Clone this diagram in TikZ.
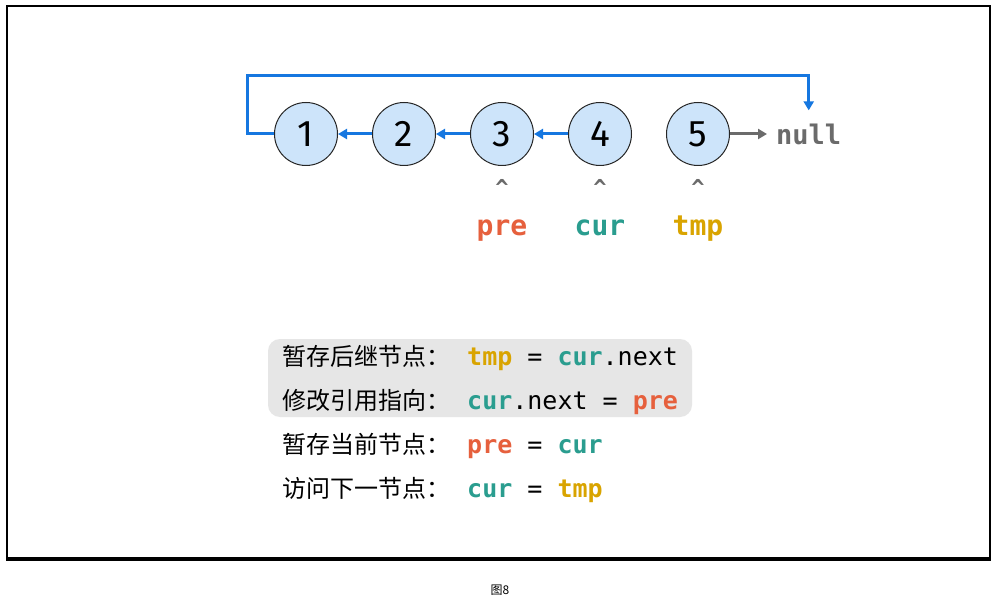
\documentclass[tikz,border=0pt]{standalone}
\usepackage{fontspec}
\setmainfont{DejaVu Sans}
\setmonofont{DejaVu Sans Mono}
\newfontfamily\cjkfont{Noto Sans CJK SC}
\newfontfamily\numfont{Fira Sans}
\usetikzlibrary{arrows.meta,positioning}
\definecolor{linkblue}{HTML}{1677E0}
\definecolor{nodefill}{HTML}{CDE4FA}
\definecolor{prered}{HTML}{E6603D}
\definecolor{curteal}{HTML}{2A9D8F}
\definecolor{tmpgold}{HTML}{D9A400}
\definecolor{nullgray}{HTML}{6B6B6B}
\definecolor{boxgray}{HTML}{E6E6E6}
\newcommand{\kw}[2]{\textcolor{#1}{\bfseries #2}}

\begin{document}
\begin{tikzpicture}[
  x=1pt,y=-1pt,
  node distance=34pt,
  listnode/.style={circle,draw=black!85,line width=1pt,fill=nodefill,
                   minimum size=63pt,inner sep=0pt,
                   font=\numfont\fontsize{37}{37}\selectfont},
  link/.style={-{Triangle[length=9pt,width=10pt]},line width=3pt,linkblue},
  nullarr/.style={-{Triangle[length=9pt,width=10pt]},line width=3pt,nullgray},
  caret/.style={text=nullgray,font=\ttfamily\bfseries\fontsize{22}{22}\selectfont},
  ptr/.style={anchor=base,font=\ttfamily\bfseries\fontsize{28}{28}\selectfont},
  steplabel/.style={anchor=base west,inner sep=0pt,
                    font=\cjkfont\fontsize{24}{24}\selectfont},
  stepcode/.style={anchor=base west,inner sep=0pt,
                   font=\ttfamily\fontsize{25}{25}\selectfont}
]
  \useasboundingbox (0,0) rectangle (995,601);
  \fill[white] (0,0) rectangle (995,601);
  % frame
  \draw[line width=2pt] (7,6) rectangle (990,558);
  \draw[line width=4pt] (6,559) -- (991,559);

  % list
  \node[listnode] (n1) at (306,134) {1};
  \node[listnode,right=of n1] (n2) {2};
  \node[listnode,right=of n2] (n3) {3};
  \node[listnode,right=of n3] (n4) {4};
  \node[listnode,right=of n4] (n5) {5};
  \node[right=46pt of n5,inner sep=0pt,text=nullgray,
        font=\ttfamily\bfseries\fontsize{27}{27}\selectfont] (null) {null};
  \draw[link] (n2) -- (n1);
  \draw[link] (n3) -- (n2);
  \draw[link] (n4) -- (n3);
  \draw[nullarr,shorten >=9pt] (n5) -- (null);
  \coordinate (loopcorner) at (247,76);
  \draw[link,shorten >=13pt] (n1.west) -| (loopcorner) -| (null.north);

  % pointers
  \node[caret] (c3) at (502,187) {\textasciicircum};
  \node[caret] (c4) at (600,187) {\textasciicircum};
  \node[caret] (c5) at (698,187) {\textasciicircum};
  \node[ptr,text=prered] (pre) at (502,236) {pre};
  \node[ptr,text=curteal] (cur) at (600,236) {cur};
  \node[ptr,text=tmpgold] (tmp) at (698,236) {tmp};

  % steps
  \fill[boxgray,rounded corners=12pt] (268,339) rectangle (692,417);
  \node[steplabel] (s1) at (282,365) {暂存后继节点：};
  \node[stepcode] (k1) at (467,365) {\kw{tmpgold}{tmp} = \kw{curteal}{cur}.next};
  \node[steplabel] (s2) at (282,409) {修改引用指向：};
  \node[stepcode] (k2) at (467,409) {\kw{curteal}{cur}.next = \kw{prered}{pre}};
  \node[steplabel] (s3) at (282,453) {暂存当前节点：};
  \node[stepcode] (k3) at (467,453) {\kw{prered}{pre} = \kw{curteal}{cur}};
  \node[steplabel] (s4) at (282,497) {访问下一节点：};
  \node[stepcode] (k4) at (467,497) {\kw{curteal}{cur} = \kw{tmpgold}{tmp}};

  % caption
  \node[font=\cjkfont\fontsize{12}{12}\selectfont] (cap) at (500,590) {图8};
\end{tikzpicture}
\end{document}
